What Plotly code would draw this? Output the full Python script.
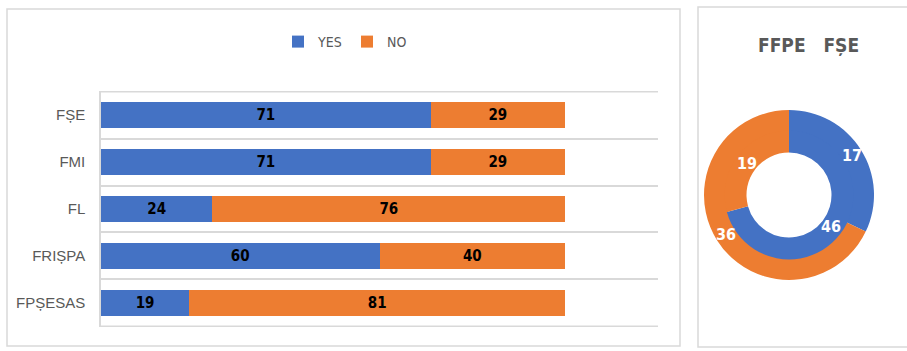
import math
import plotly.graph_objects as go

# ---- data ----
categories = ["FȘE", "FMI", "FL", "FRIȘPA", "FPȘESAS"]
yes_values = [71, 71, 24, 60, 19]
no_values = [29, 29, 76, 40, 81]

donut_title = "FFPE   FȘE"
donut_labels = ["YES", "NO"]
inner_values = [46, 19]   # inner ring
outer_values = [17, 36]   # outer ring

BLUE = "#4472C4"
ORANGE = "#ED7D31"
GRAY = "#595959"
GRID = "#d9d9d9"
W, H = 907, 351
NARROW = "Liberation Sans Narrow, DejaVu Sans Condensed, Arial Narrow, sans-serif"

fig = go.Figure()

for name, vals, col in [("YES", yes_values, BLUE), ("NO", no_values, ORANGE)]:
    fig.add_trace(go.Bar(
        y=categories, x=vals, name=name, orientation="h",
        marker=dict(color=col, line=dict(width=0)),
        text=vals, texttemplate="<b>%{x}</b>", textposition="inside",
        insidetextanchor="middle", textangle=0,
        textfont=dict(color="black", size=15, family=NARROW),
    ))

# donut
cx, cy, R = 789, 195, 85
r_mid = R * 0.74
r_hole = R * 0.5

def dom(r):
    return dict(x=[(cx - r) / W, (cx + r) / W],
                y=[(H - cy - r) / H, (H - cy + r) / H])

fig.add_trace(go.Pie(
    labels=donut_labels, values=outer_values, hole=r_mid / R, sort=False,
    direction="clockwise", rotation=0, domain=dom(R),
    marker=dict(colors=[BLUE, ORANGE], line=dict(width=0)),
    textinfo="none", showlegend=False, hoverinfo="label+value",
))
fig.add_trace(go.Pie(
    labels=donut_labels, values=inner_values, hole=r_hole / (r_mid + 1.5), sort=False,
    direction="clockwise", rotation=0, domain=dom(r_mid + 1.5),
    marker=dict(colors=[BLUE, ORANGE], line=dict(width=0)),
    textinfo="none", showlegend=False, hoverinfo="label+value",
))

# value labels at slice centroids
annotations = []
for vals, r_lab in [(outer_values, (R + r_mid) / 2), (inner_values, (r_mid + r_hole) / 2)]:
    total = sum(vals)
    cum = 0
    for v in vals:
        theta = 2 * math.pi * (cum + v / 2) / total
        cum += v
        annotations.append(dict(
            text="<b>%d</b>" % v, xref="paper", yref="paper",
            x=(cx + r_lab * math.sin(theta)) / W,
            y=(H - cy + r_lab * math.cos(theta)) / H,
            xanchor="center", yanchor="middle", showarrow=False,
            font=dict(size=16, color="white", family=NARROW)))

annotations.append(dict(
    text="<b>" + donut_title + "</b>", xref="paper", yref="paper",
    x=808 / W, y=(H - 45) / H, xanchor="center", yanchor="middle",
    showarrow=False, font=dict(size=19, color=GRAY, family=NARROW)))

n = len(categories)
shapes = [
    dict(type="rect", xref="paper", yref="paper",
         x0=7 / W, x1=680 / W, y0=(H - 346) / H, y1=(H - 9) / H,
         line=dict(color=GRID, width=1.5), fillcolor="rgba(0,0,0,0)",
         layer="below"),
    dict(type="rect", xref="paper", yref="paper",
         x0=698 / W, x1=912 / W, y0=(H - 347) / H, y1=(H - 7) / H,
         line=dict(color=GRID, width=1.5), fillcolor="rgba(0,0,0,0)",
         layer="below"),
]
# outer category boundaries (top and bottom gridlines)
for yb in (-0.5, n - 0.5):
    shapes.append(dict(type="line", xref="x domain", yref="y",
                       x0=0, x1=1, y0=yb, y1=yb,
                       line=dict(color=GRID, width=1.5), layer="below"))

fig.update_layout(
    width=W, height=H,
    margin=dict(l=0, r=0, t=0, b=0),
    paper_bgcolor="white", plot_bgcolor="white",
    barmode="stack", bargap=0.44,
    font=dict(family=NARROW, color=GRAY),
    legend=dict(orientation="h", x=347 / W, xanchor="center",
                y=(H - 42) / H, yanchor="middle",
                font=dict(size=14, color=GRAY, family=NARROW),
                itemwidth=30, entrywidth=24, entrywidthmode="pixels",
                traceorder="normal"),
    xaxis=dict(domain=[101 / W, 658 / W], range=[0, 120],
               showgrid=False, zeroline=False, showticklabels=False,
               showline=False),
    yaxis=dict(domain=[(H - 327) / H, (H - 91) / H], type="category",
               autorange="reversed", tickson="boundaries",
               showgrid=True, gridcolor=GRID, gridwidth=1.5,
               showline=True, linecolor=GRID, linewidth=1.5,
               ticks="", ticklabelstandoff=11,
               tickfont=dict(size=15, color=GRAY,
                             family="Liberation Sans, Arial, sans-serif")),
    shapes=shapes,
    annotations=annotations,
)

fig.write_html("out.html", config={"displayModeBar": False},
               post_script="document.body.style.margin='0';")
